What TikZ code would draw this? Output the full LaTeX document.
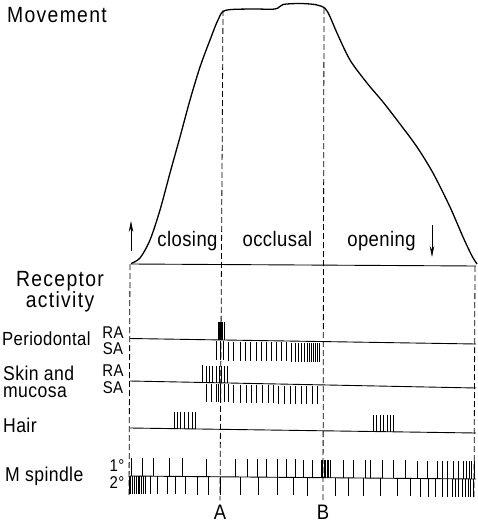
\documentclass[tikz,border=0pt]{standalone}
\usepackage{fontspec}
\setmainfont{Liberation Sans}[FakeStretch=0.88,LetterSpace=2]
\newfontfamily\widefont{Liberation Sans}[FakeStretch=0.88,LetterSpace=6]
\usetikzlibrary{arrows.meta}

\begin{document}
\begin{tikzpicture}[x=1pt,y=-1pt,>={Stealth[length=11pt,width=4.5pt]},
  lbl/.style={anchor=base west,inner sep=0pt,font=\fontsize{20}{17}\selectfont},
  big/.style={anchor=base,inner sep=0pt,font=\widefont\fontsize{22}{17}\selectfont},
  sub/.style={anchor=base,inner sep=0pt,font=\fontsize{17}{17}\selectfont},
  phase/.style={anchor=base,inner sep=0pt,font=\fontsize{21}{21}\selectfont},
  cut/.style={dash pattern=on 6pt off 3pt,line width=0.8pt},
  spk/.style={line width=0.95pt},
  trace/.style={line width=0.9pt}]
  \useasboundingbox (0,0) rectangle (478,522);

  \node[big,anchor=base west] (movement) at (7,23) {Movement};
  \draw[line width=1.3pt,line join=round] plot[smooth,tension=0.5] coordinates {
    (131,263.5) (140,258) (150,240) (160,210) (170,173) (180,137) (190,100) (200,67)
    (210,40) (218,20) (225,10.5) (250,9) (275,9) (283,4.5) (300,3.5) (316,4.7)
    (325,8.3) (330,16.7) (337,33) (350,60) (367,83) (383,102) (400,124) (417,147)
    (433,173) (450,207) (463,237) (472,256) (477,264)};
  \draw[trace] (131,264) -- (476,266);

  \node[phase] (closing) at (187.5,246) {closing};
  \node[phase] (occlusal) at (277.5,246) {occlusal};
  \node[phase] (opening) at (381.5,246) {opening};
  \draw[->,line width=0.7pt] (131,251) -- (131,221);
  \draw[->,line width=0.7pt] (432,225) -- (432,257);

  \node[big,anchor=north,align=center] (receptor) at (60,271) {Receptor\\activity};

  \node[lbl,font=\fontsize{19}{19}\selectfont] (periodontal) at (2,345) {Periodontal};
  \node[sub] (pdRA) at (113,338) {RA};
  \node[sub] (pdSA) at (113,354) {SA};
  \draw[trace] (130,338.5) -- (476,344);
  \foreach \x in {218,219.2,220.4,221.6,222.8,224}
    \draw[spk] (\x,{338.5+0.0159*(\x-130)}) -- ++(0,-18);
  \foreach \x in {216,220.5,223,228,233.5,240,245,250,256.5,261.5,266.5,271.5,276.5,281.5,
    286.5,291.5,295,298.3,301.5,304.5,307,309,311,313,315,317,319}
    \draw[spk] (\x,{340+0.0159*(\x-130)}) -- ++(0,19);

  \node[lbl,anchor=north west,align=left] (skin) at (3,365.5) {Skin and\\mucosa};
  \node[sub] (skRA) at (113,376) {RA};
  \node[sub] (skSA) at (113,393) {SA};
  \draw[trace] (130,381) -- (476,388);
  \foreach \x in {202.7,206,209.3,212.7,216,219.3,221.7,224,227.7}
    \draw[spk] (\x,{381+0.0202*(\x-130)}) -- ++(0,-17);
  \foreach \x in {206.7,211.7,216,218.7,220.7,224,228.3,233.3,240,246,251.7,256.7,262.7,
    268.3,273.3,278.3,284.3,290,295.7,301,306.7,312.3,317.3}
    \draw[spk] (\x,{382.5+0.0202*(\x-130)}) -- ++(0,18);

  \node[lbl] (hair) at (3,432) {Hair};
  \draw[trace] (130,428) -- (476,433);
  \foreach \x in {174,177.3,180.7,184.7,188.7,192.3,195.7,373,376.5,380,383.5,387,390.5,393.5}
    \draw[spk] (\x,{428+0.0145*(\x-130)}) -- ++(0,-17);

  \node[lbl] (spindle) at (5,481) {M spindle};
  \node[sub] (prim) at (117,471) {1\textdegree};
  \node[sub] (sec) at (117,488) {2\textdegree};
  \draw[trace] (130,476) -- (476,479);
  \foreach \x in {131,142,153,169,182,206,235,247,257,266,277,286,295,303,312,
    321,322.5,324,325.5,327,328.5,330,343,353,365,370,382,393,405,417,427,437,442,447,
    453,458,463,466,469,471.5,474}
    \draw[spk] (\x,{476+0.0087*(\x-130)}) -- ++(0,-18);
  \foreach \x in {129,130.8,132.6,134.4,136.2,138,139.8,141.6,143.4,145.2,150,157,167,175,185,
    197,208,220,240,258,277,293,307,335,348,363,380,397,410,420,428,435,442,447,452,
    455,458,462,465,468,470.5,473}
    \draw[spk] (\x,{476+0.0087*(\x-130)}) -- ++(0,18);

  \node[phase] (labA) at (220,519) {A};
  \node[phase] (labB) at (323,519) {B};
  \coordinate (topL) at (130,264);
  \coordinate (topA) at (223,10);
  \coordinate (topB) at (324,8);
  \coordinate (topR) at (475,266);
  \draw[cut] (topL) -- (129,497);
  \draw[cut] (topA) -- ([yshift=4pt]labA.north);
  \draw[cut] (topB) -- ([yshift=4pt]labB.north);
  \draw[cut] (topR) -- (474,497);
\end{tikzpicture}
\end{document}
